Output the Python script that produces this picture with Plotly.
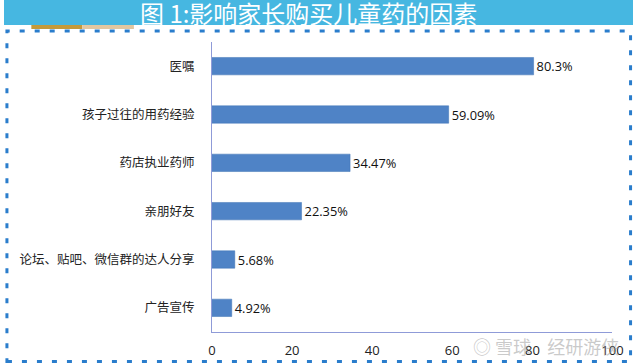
import plotly.graph_objects as go

categories = ["医嘱", "孩子过往的用药经验", "药店执业药师", "亲朋好友", "论坛、贴吧、微信群的达人分享", "广告宣传"]
values = [80.3, 59.09, 34.47, 22.35, 5.68, 4.92]
value_labels = ["80.3%", "59.09%", "34.47%", "22.35%", "5.68%", "4.92%"]
x_ticks = [0, 20, 40, 60, 80, 100]
title_text = "图 1:影响家长购买儿童药的因素"

W, H = 644, 364

def px(x):
    return x / W

def py(y):
    return 1 - y / H

fig = go.Figure(go.Bar(
    y=categories,
    x=values,
    orientation="h",
    text=value_labels,
    textposition="outside",
    cliponaxis=False,
    textfont=dict(family="Open Sans, Noto Sans CJK SC", size=14, color="#111111"),
    marker=dict(color="#4f83c6", line=dict(color="#3f72b5", width=0.5)),
))

fig.update_layout(
    width=W, height=H, autosize=False,
    margin=dict(l=0, r=0, t=0, b=0),
    paper_bgcolor="white", plot_bgcolor="white",
    showlegend=False,
    bargap=0.64,
    font=dict(family="Noto Sans CJK SC", color="#222222"),
    xaxis=dict(
        domain=[px(213), px(623)],
        range=[0, 100],
        tickvals=x_ticks,
        ticktext=[str(v) for v in x_ticks],
        showgrid=False, zeroline=False,
        showline=True, linecolor="#8f9bd8", linewidth=1,
        ticks="", ticklabelstandoff=6,
        tickfont=dict(family="Open Sans", size=13, color="#222222"),
    ),
    yaxis=dict(
        domain=[py(332), py(42)],
        autorange="reversed",
        showgrid=False, zeroline=False,
        showline=True, linecolor="#8f9bd8", linewidth=1,
        ticks="", ticklabelstandoff=14,
        tickfont=dict(family="Noto Sans CJK SC", size=12.5, color="#222222"),
    ),
)

shapes = [
    dict(type="rect", xref="paper", yref="paper", x0=0, x1=1, y0=py(25), y1=1,
         fillcolor="#46b7e1", line=dict(width=0), layer="below"),
    dict(type="rect", xref="paper", yref="paper", x0=px(28), x1=px(80), y0=py(29), y1=py(25),
         fillcolor="#c49a3a", line=dict(width=0), layer="below"),
    dict(type="rect", xref="paper", yref="paper", x0=px(80), x1=px(133), y0=py(29), y1=py(25),
         fillcolor="#e2c7a0", line=dict(width=0), layer="below"),
    dict(type="rect", xref="paper", yref="paper", x0=px(3), x1=px(641.5), y0=py(361.5), y1=py(31),
         line=dict(color="#2a7dcc", width=3, dash="5px,10px"), fillcolor="rgba(0,0,0,0)"),
]
fig.update_layout(shapes=shapes)

fig.add_annotation(
    text=title_text, xref="paper", yref="paper", x=px(312), y=py(13),
    showarrow=False, xanchor="center", yanchor="middle",
    font=dict(family="Noto Sans CJK SC", size=24, color="white"),
)

fig.add_annotation(
    text="◎ 雪球    经研游侠", xref="paper", yref="paper", x=px(632), y=py(346),
    showarrow=False, xanchor="right", yanchor="middle",
    font=dict(family="Noto Sans CJK SC", size=18, color="rgba(150,150,150,0.5)"),
)

fig.write_html(
    "out.html",
    config={"responsive": False, "displayModeBar": False},
    post_script="document.body.style.margin='0';document.body.style.overflow='hidden';",
)
